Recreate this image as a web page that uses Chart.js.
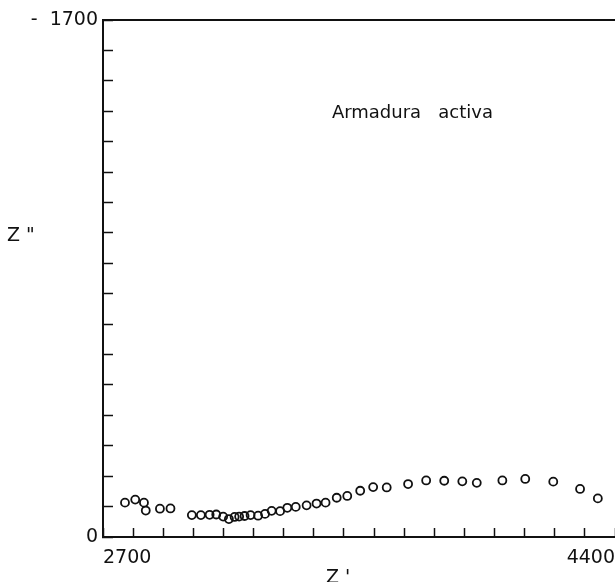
<!DOCTYPE html>
<html>
<head>
<meta charset="utf-8">
<script src="https://cdn.jsdelivr.net/npm/chart.js@4"></script>
<style>
  html, body { margin: 0; padding: 0; background: #fff; overflow: hidden; }
  #wrap { width: 615px; height: 582px; position: relative; }
</style>
</head>
<body>
<div id="wrap"><canvas id="c"></canvas></div>
<script>
// Impedance spectrum: real part Z' against imaginary part Z''
const zReal = [2773, 2807, 2836, 2842, 2889, 2924, 2995, 3025, 3054, 3076,
               3099, 3118, 3137, 3152, 3170, 3190, 3215, 3238, 3260, 3288,
               3312, 3340, 3376, 3409, 3439, 3476, 3511, 3554, 3597, 3642,
               3713, 3773, 3833, 3893, 3941, 4026, 4102, 4195, 4284, 4343];
const zImag = [-113, -123, -113, -87, -93, -94, -72, -72, -73, -74,
               -67, -59, -66, -67, -69, -72, -70, -76, -86, -85,
               -96, -99, -104, -110, -113, -129, -135, -152, -164, -163,
               -174, -186, -185, -183, -178, -186, -191, -182, -158, -127];

const xLimits = [2700, 4400];
const yLimits = [-1700, 0];
const xLabelled = [2700, 4400];
const yLabelled = [-1700, 0];

const seriesLabel = 'Armadura activa';
const xTitle = "Z '";
const yTitle = 'Z "';

const FONT = '"DejaVu Sans", sans-serif';

const points = zReal.map((v, i) => ({ x: v, y: zImag[i] }));

// Free text: axis titles and the series caption
const textPlugin = {
  id: 'freeText',
  afterDraw(chart) {
    const ctx = chart.ctx;
    const xs = chart.scales.x, ys = chart.scales.y;
    ctx.save();
    ctx.fillStyle = '#111';
    ctx.textBaseline = 'alphabetic';
    ctx.textAlign = 'left';
    ctx.font = '18px ' + FONT;
    ctx.fillText('Armadura   activa', xs.getPixelForValue(3460), ys.getPixelForValue(-1378));
    ctx.font = '19px ' + FONT;
    ctx.fillText(yTitle, 7, 241);
    ctx.fillText(xTitle, 326, 583);
    ctx.restore();
  }
};

new Chart(document.getElementById('c'), {
  type: 'scatter',
  data: {
    datasets: [{
      label: seriesLabel,
      data: points,
      showLine: false,
      pointStyle: 'circle',
      pointRadius: 4,
      pointBorderWidth: 1.8,
      pointBorderColor: '#111',
      pointBackgroundColor: 'rgba(255,255,255,0)'
    }]
  },
  options: {
    responsive: true,
    maintainAspectRatio: false,
    animation: false,
    devicePixelRatio: 1,
    layout: { autoPadding: false, padding: { left: 0, right: 0, top: 20, bottom: 0 } },
    plugins: {
      legend: { display: false },
      tooltip: { enabled: false },
      title: { display: false }
    },
    scales: {
      x: {
        type: 'linear',
        position: 'bottom',
        min: xLimits[0],
        max: xLimits[1],
        afterBuildTicks(scale) {
          const t = [];
          for (let v = xLimits[0]; v <= xLimits[1]; v += 100) t.push({ value: v });
          scale.ticks = t;
        },
        afterFit(scale) {
          scale.height = 45;
          scale.paddingLeft = 0;
          scale.paddingRight = 0;
        },
        grid: {
          drawOnChartArea: false,
          drawTicks: true,
          tickLength: -9,
          tickWidth: 1.5,
          tickColor: '#111'
        },
        border: { display: true, color: '#111', width: 2 },
        ticks: {
          autoSkip: false,
          maxRotation: 0,
          align: 'inner',
          padding: 19,
          color: '#111',
          font: { family: FONT, size: 19 },
          callback: (v) => xLabelled.includes(v) ? String(v) : ''
        }
      },
      xTop: {
        type: 'linear',
        position: 'top',
        min: xLimits[0],
        max: xLimits[1],
        afterFit(scale) {
          scale.height = 0;
          scale.paddingLeft = 0;
          scale.paddingRight = 0;
        },
        grid: { drawOnChartArea: false, drawTicks: false },
        border: { display: true, color: '#111', width: 2 },
        ticks: { display: false }
      },
      y: {
        type: 'linear',
        position: 'left',
        reverse: true,
        min: yLimits[0],
        max: yLimits[1],
        afterBuildTicks(scale) {
          const t = [];
          for (let v = yLimits[0]; v <= yLimits[1]; v += 100) t.push({ value: v });
          scale.ticks = t;
        },
        afterFit(scale) {
          scale.width = 103;
          scale.paddingTop = 0;
          scale.paddingBottom = 0;
        },
        grid: {
          drawOnChartArea: false,
          drawTicks: true,
          tickLength: -10,
          tickWidth: 1.5,
          tickColor: '#111'
        },
        border: { display: true, color: '#111', width: 2 },
        ticks: {
          autoSkip: false,
          padding: 15,
          color: '#111',
          font: { family: FONT, size: 19 },
          callback: (v) => yLabelled.includes(v) ? (v < 0 ? '-  ' + Math.abs(v) : String(v)) : ''
        }
      }
    }
  },
  plugins: [textPlugin]
});
</script>
</body>
</html>
